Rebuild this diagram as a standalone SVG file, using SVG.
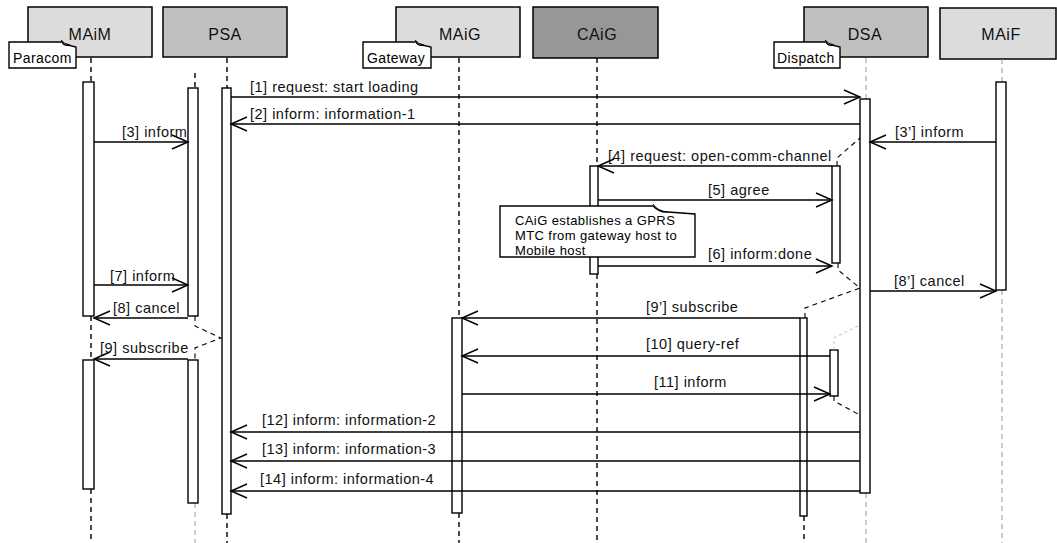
<svg xmlns="http://www.w3.org/2000/svg" width="1057" height="543" viewBox="0 0 1057 543">
<defs>
<style>
.hdr{stroke:#000;stroke-width:1.5}
.light{fill:#dcdcdc}
.mid{fill:#c0c0c0}
.dark{fill:#979797}
.ht{font-family:"Liberation Sans",Arial,sans-serif;font-size:16px;letter-spacing:0.5px;text-anchor:middle;fill:#111}
.note{fill:#fff;stroke:#000;stroke-width:1.4}
.nt{font-family:"Liberation Sans",Arial,sans-serif;font-size:14px;letter-spacing:0.4px;fill:#000}
.nt2{font-family:"Liberation Sans",Arial,sans-serif;font-size:13px;letter-spacing:0.4px;fill:#000}
.ll{stroke:#000;stroke-width:1.4;stroke-dasharray:5,4;fill:none}
.llg{stroke:#999;stroke-width:1;stroke-dasharray:5,4;fill:none}
.bar{fill:#fff;stroke:#000;stroke-width:1.4}
.msg{stroke:#000;stroke-width:1.4;fill:none;marker-end:url(#arr)}
.br{stroke:#000;stroke-width:1.1;stroke-dasharray:5,4;fill:none}
.brg{stroke:#bbb;stroke-width:1;stroke-dasharray:3,3;fill:none}
.lbl{font-family:"Liberation Sans",Arial,sans-serif;font-size:14.5px;letter-spacing:0.5px;fill:#111}
</style>
<marker id="arr" markerUnits="userSpaceOnUse" markerWidth="20" markerHeight="16" viewBox="0 0 20 16" refX="18" refY="8" orient="auto">
<path d="M2,1 L18,8 L2,15" fill="none" stroke="#000" stroke-width="1.4"/>
</marker>
</defs>
<rect width="1057" height="543" fill="#fff"/>

<g id="MAiM">
<rect class="hdr light" x="28" y="7" width="124" height="50"/>
<text class="ht" x="90" y="40">MAiM</text>
<line class="ll" x1="91" y1="58" x2="91" y2="82"/>
<line class="ll" x1="91" y1="316" x2="91" y2="360"/>
<line class="ll" x1="91" y1="489" x2="91" y2="543"/>
<rect class="bar" x="83" y="82" width="11" height="234"/>
<rect class="bar" x="83" y="360" width="11" height="129"/>
</g>

<g id="PSA">
<rect class="hdr mid" x="163" y="7" width="124" height="50"/>
<text class="ht" x="225" y="40">PSA</text>
<line class="ll" x1="227" y1="58" x2="227" y2="88"/>
<line class="ll" x1="227" y1="514" x2="227" y2="543"/>
<rect class="bar" x="222" y="88" width="9" height="426"/>
</g>

<g id="PSA-branch">
<line class="ll" x1="195" y1="73" x2="195" y2="88"/>
<line class="llg" x1="195" y1="503" x2="195" y2="543"/>
<rect class="bar" x="188" y="88" width="10" height="228"/>
<rect class="bar" x="188" y="360" width="10" height="143"/>
</g>

<g id="MAiG">
<rect class="hdr light" x="396" y="7" width="124" height="50"/>
<text class="ht" x="460" y="40">MAiG</text>
<line class="ll" x1="459" y1="58" x2="459" y2="318"/>
<line class="ll" x1="459" y1="513" x2="459" y2="543"/>
<rect class="bar" x="452" y="318" width="10" height="195"/>
</g>

<g id="CAiG">
<rect class="hdr dark" x="533" y="7" width="125" height="51"/>
<text class="ht" x="597" y="40">CAiG</text>
<line class="ll" x1="597" y1="58" x2="597" y2="166"/>
<line class="ll" x1="597" y1="274" x2="597" y2="543"/>
<rect class="bar" x="590" y="166" width="8" height="108"/>
</g>

<g id="DSA">
<rect class="hdr mid" x="804" y="7" width="124" height="50"/>
<text class="ht" x="865" y="40">DSA</text>
<line class="llg" x1="866" y1="58" x2="866" y2="99"/>
<line class="llg" x1="866" y1="493" x2="866" y2="543"/>
<rect class="bar" x="860" y="99" width="10" height="394"/>
</g>

<g id="DSA-branches">
<line class="ll" x1="804" y1="516" x2="804" y2="543"/>
<rect class="bar" x="832" y="166" width="8" height="97"/>
<rect class="bar" x="800" y="318" width="7" height="198"/>
<rect class="bar" x="830" y="350" width="8" height="46"/>
</g>

<g id="MAiF">
<rect class="hdr light" x="940" y="8" width="116" height="51"/>
<text class="ht" x="1001" y="40">MAiF</text>
<line class="llg" x1="1002" y1="59" x2="1002" y2="82"/>
<line class="llg" x1="1002" y1="290" x2="1002" y2="543"/>
<rect class="bar" x="996" y="82" width="10" height="208"/>
</g>

<g id="note-paracom">
<path class="note" d="M9,42 H62 Q64,46 68,45 L76,47 V68 H9 Z"/>
<path d="M61,40 Q64,44 70,45" fill="none" stroke="#000" stroke-width="1"/>
<text class="nt" x="13" y="63">Paracom</text>
</g>

<g id="note-gateway">
<path class="note" d="M363,42 H416 Q418,46 422,45 L431,47 V68 H363 Z"/>
<path d="M415,40 Q418,44 424,45" fill="none" stroke="#000" stroke-width="1"/>
<text class="nt" x="367" y="63">Gateway</text>
</g>

<g id="note-dispatch">
<path class="note" d="M774,42 H826 Q828,46 832,45 L840,47 V68 H774 Z"/>
<path d="M825,40 Q828,44 834,45" fill="none" stroke="#000" stroke-width="1"/>
<text class="nt" x="777" y="63">Dispatch</text>
</g>

<g id="note-gprs">
<path class="note" d="M500,206 H653 Q660,213 668,212 L695,214 V257 H500 Z"/>
<path d="M653,204 Q657,211 668,212" fill="none" stroke="#000" stroke-width="1"/>
<text class="nt2" x="515" y="225">CAiG establishes a GPRS</text>
<text class="nt2" x="515" y="240">MTC from gateway host to</text>
<text class="nt2" x="515" y="255">Mobile host</text>
</g>

<g id="connectors">
<path class="br" d="M837,166 V158 L860,138"/>
<path class="br" d="M838,263 V270 L860,288 L805,308 V318"/>
<path class="brg" d="M858,326 L834,338 V350"/>
<path class="br" d="M834,396 V401 L858,414"/>
<path class="br" d="M195,316 V326 L221,338 L195,348 V360"/>

<line class="msg" x1="231" y1="97" x2="860" y2="97"/>
<line class="msg" x1="860" y1="124" x2="231" y2="124"/>
<line class="msg" x1="94" y1="142" x2="188" y2="142"/>
<line class="msg" x1="996" y1="142" x2="870" y2="142"/>
<line class="msg" x1="832" y1="166" x2="598" y2="166"/>
<line class="msg" x1="598" y1="200" x2="832" y2="200"/>
<line class="msg" x1="598" y1="266" x2="832" y2="266"/>
<line class="msg" x1="94" y1="285" x2="188" y2="285"/>
<line class="msg" x1="870" y1="291" x2="996" y2="291"/>
<line class="msg" x1="188" y1="318" x2="94" y2="318"/>
<line class="msg" x1="800" y1="318" x2="462" y2="318"/>
<line class="msg" x1="188" y1="359" x2="94" y2="359"/>
<line class="msg" x1="830" y1="356" x2="462" y2="356"/>
<line class="msg" x1="462" y1="394" x2="830" y2="394"/>
<line class="msg" x1="860" y1="432" x2="231" y2="432"/>
<line class="msg" x1="860" y1="461" x2="231" y2="461"/>
<line class="msg" x1="860" y1="491" x2="231" y2="491"/>

<text class="lbl" x="250" y="92">[1] request: start loading</text>
<text class="lbl" x="250" y="119">[2] inform: information-1</text>
<text class="lbl" x="122" y="137">[3] inform</text>
<text class="lbl" x="895" y="137">[3’] inform</text>
<text class="lbl" x="608" y="161">[4] request: open-comm-channel</text>
<text class="lbl" x="708" y="195">[5] agree</text>
<text class="lbl" x="708" y="259">[6] inform:done</text>
<text class="lbl" x="110" y="281">[7] inform</text>
<text class="lbl" x="894" y="286">[8’] cancel</text>
<text class="lbl" x="113" y="313">[8] cancel</text>
<text class="lbl" x="646" y="312">[9’] subscribe</text>
<text class="lbl" x="100" y="353">[9] subscribe</text>
<text class="lbl" x="646" y="349">[10] query-ref</text>
<text class="lbl" x="654" y="387">[11] inform</text>
<text class="lbl" x="262" y="425">[12] inform: information-2</text>
<text class="lbl" x="262" y="454">[13] inform: information-3</text>
<text class="lbl" x="260" y="484">[14] inform: information-4</text>
</g>
</svg>
